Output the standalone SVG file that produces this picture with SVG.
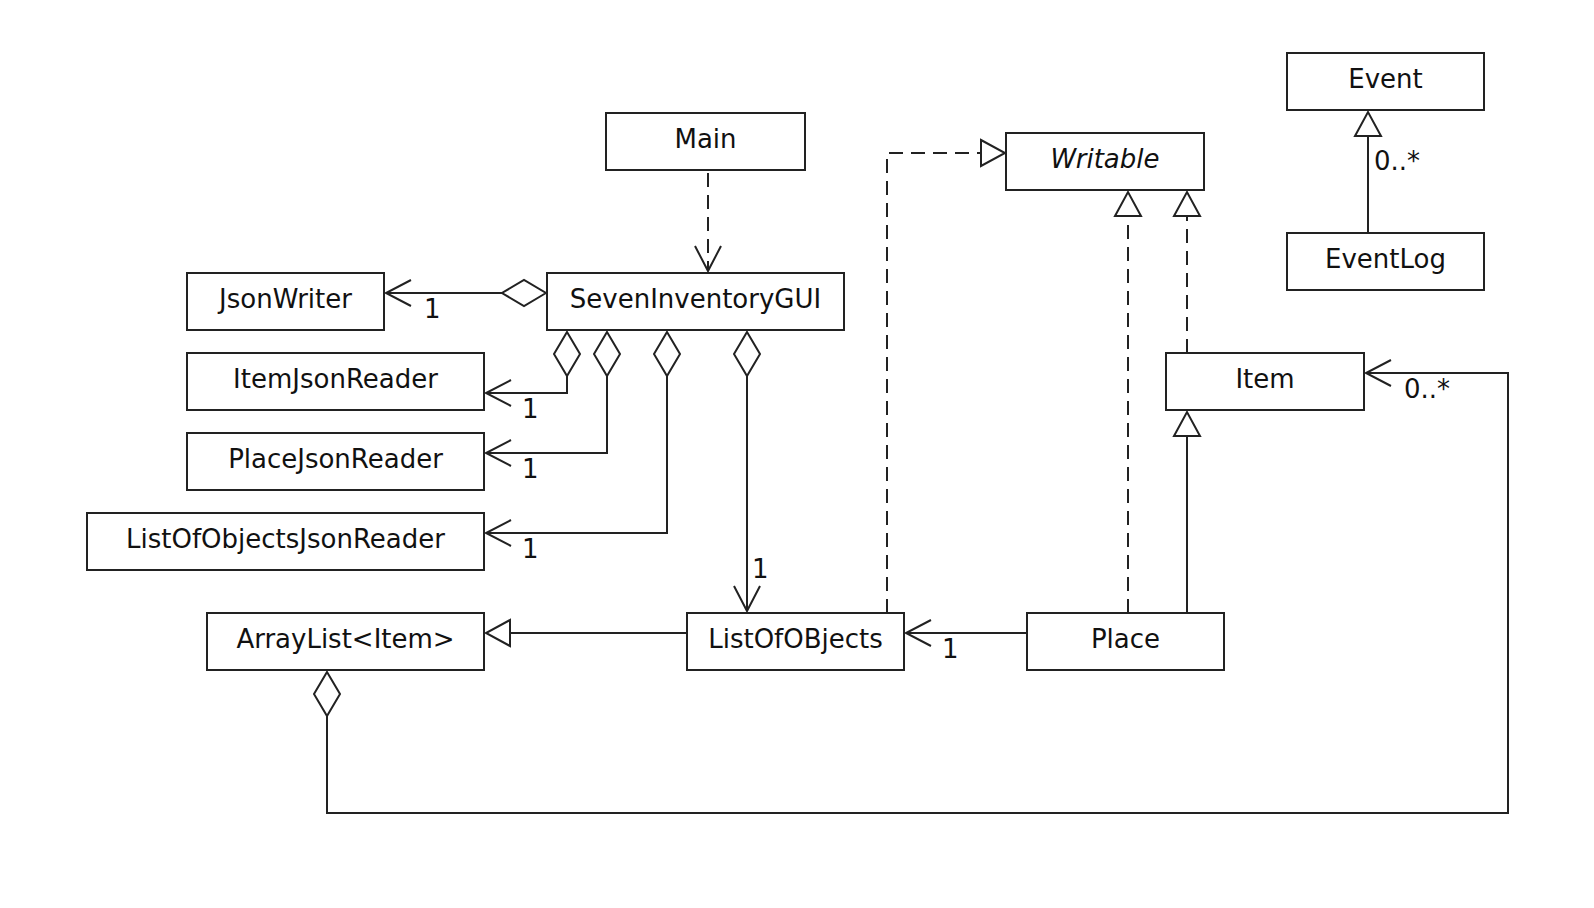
<svg xmlns="http://www.w3.org/2000/svg" width="1594" height="908" viewBox="0 0 1594 908">
<style>
.box{fill:#fff;stroke:#222;stroke-width:2}
.lbl{font-family:"DejaVu Sans",sans-serif;font-size:26px;fill:#111;text-anchor:middle}
.mult{font-family:"DejaVu Sans",sans-serif;font-size:26px;fill:#111}
.it{font-style:italic}
.c{fill:none;stroke:#222;stroke-width:2}
.dash{stroke-dasharray:14 8}
.mk{stroke:#222;stroke-width:2;stroke-dasharray:none}
</style>
<defs>
<marker id="open" markerUnits="userSpaceOnUse" viewBox="-30 -16 34 32" markerWidth="34" markerHeight="32" refX="0" refY="0" orient="auto" overflow="visible">
<path class="mk" d="M-25,-13 L0,0 L-25,13" fill="none"/>
</marker>
<marker id="tri" markerUnits="userSpaceOnUse" viewBox="-30 -16 34 32" markerWidth="34" markerHeight="32" refX="0" refY="0" orient="auto" overflow="visible">
<path class="mk" d="M-24,-13 L0,0 L-24,13 Z" fill="#fff"/>
</marker>
<marker id="dia" markerUnits="userSpaceOnUse" viewBox="-4 -16 52 32" markerWidth="52" markerHeight="32" refX="0" refY="0" orient="auto" overflow="visible">
<path class="mk" d="M0,0 L22,-13 L44,0 L22,13 Z" fill="#fff"/>
</marker>
</defs>
<rect width="1594" height="908" fill="#fff"/>
<g id="connectors">
<path class="c dash" d="M708,173 V271" marker-end="url(#open)"/>
<path class="c" d="M546,293 H386" marker-start="url(#dia)" marker-end="url(#open)"/>
<path class="c" d="M567,332 V393 H486" marker-start="url(#dia)" marker-end="url(#open)"/>
<path class="c" d="M607,332 V453 H486" marker-start="url(#dia)" marker-end="url(#open)"/>
<path class="c" d="M667,332 V533 H486" marker-start="url(#dia)" marker-end="url(#open)"/>
<path class="c" d="M747,332 V611" marker-start="url(#dia)" marker-end="url(#open)"/>
<path class="c" d="M687,633 H486" marker-end="url(#tri)"/>
<path class="c dash" d="M887,613 V153 H1005" marker-end="url(#tri)"/>
<path class="c dash" d="M1128,613 V192" marker-end="url(#tri)"/>
<path class="c dash" d="M1187,353 V192" marker-end="url(#tri)"/>
<path class="c" d="M1187,613 V412" marker-end="url(#tri)"/>
<path class="c" d="M1027,633 H906" marker-end="url(#open)"/>
<path class="c" d="M327,672 V813 H1508 V373 H1366" marker-start="url(#dia)" marker-end="url(#open)"/>
<path class="c" d="M1368,233 V112" marker-end="url(#tri)"/>
<text class="mult" x="424" y="318">1</text>
<text class="mult" x="522" y="418">1</text>
<text class="mult" x="522" y="478">1</text>
<text class="mult" x="522" y="558">1</text>
<text class="mult" x="752" y="578">1</text>
<text class="mult" x="942" y="658">1</text>
<text class="mult" x="1404" y="398">0..*</text>
<text class="mult" x="1374" y="170">0..*</text>
</g>
<g id="Main"><rect class="box" x="606" y="113" width="199" height="57"/><text class="lbl" x="705.5" y="148">Main</text></g>
<g id="SevenInventoryGUI"><rect class="box" x="547" y="273" width="297" height="57"/><text class="lbl" x="695.5" y="308">SevenInventoryGUI</text></g>
<g id="JsonWriter"><rect class="box" x="187" y="273" width="197" height="57"/><text class="lbl" x="285.5" y="308">JsonWriter</text></g>
<g id="ItemJsonReader"><rect class="box" x="187" y="353" width="297" height="57"/><text class="lbl" x="335.5" y="388">ItemJsonReader</text></g>
<g id="PlaceJsonReader"><rect class="box" x="187" y="433" width="297" height="57"/><text class="lbl" x="335.5" y="468">PlaceJsonReader</text></g>
<g id="ListOfObjectsJsonReader"><rect class="box" x="87" y="513" width="397" height="57"/><text class="lbl" x="285.5" y="548">ListOfObjectsJsonReader</text></g>
<g id="ArrayListItem"><rect class="box" x="207" y="613" width="277" height="57"/><text class="lbl" x="345.5" y="648">ArrayList&lt;Item&gt;</text></g>
<g id="ListOfOBjects"><rect class="box" x="687" y="613" width="217" height="57"/><text class="lbl" x="795.5" y="648">ListOfOBjects</text></g>
<g id="Place"><rect class="box" x="1027" y="613" width="197" height="57"/><text class="lbl" x="1125.5" y="648">Place</text></g>
<g id="Item"><rect class="box" x="1166" y="353" width="198" height="57"/><text class="lbl" x="1265" y="388">Item</text></g>
<g id="Writable"><rect class="box" x="1006" y="133" width="198" height="57"/><text class="lbl it" x="1105" y="168">Writable</text></g>
<g id="Event"><rect class="box" x="1287" y="53" width="197" height="57"/><text class="lbl" x="1385.5" y="88">Event</text></g>
<g id="EventLog"><rect class="box" x="1287" y="233" width="197" height="57"/><text class="lbl" x="1385.5" y="268">EventLog</text></g>
</svg>
